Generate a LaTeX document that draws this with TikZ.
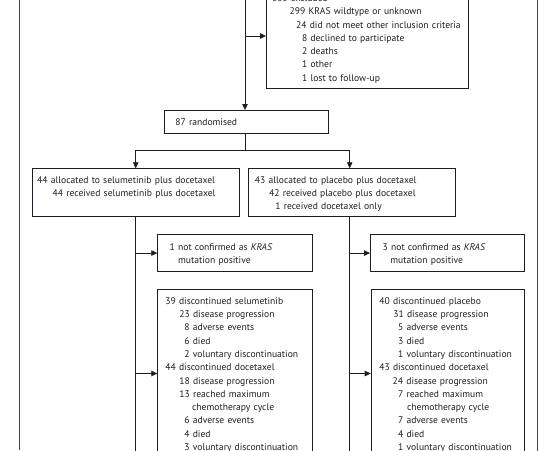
\documentclass[tikz,border=0pt]{standalone}
\usepackage{fontspec}
\setmainfont{PT Sans}
\usepackage{xcolor}
\usepackage{tikz}
\usetikzlibrary{arrows.meta,positioning,calc}

\definecolor{framered}{RGB}{168,18,70}
\definecolor{inkdark}{RGB}{30,28,36}
\newcommand{\indt}[1]{\hspace*{#1pt}}
\newcommand{\rowstrut}{\rule[-2.8pt]{0pt}{13.3pt}}

\tikzset{
  flowbox/.style={draw=inkdark, line width=0.8pt, inner xsep=0pt, inner ysep=4pt,
    anchor=north west, align=left, text=inkdark,
    font=\fontsize{9.6}{13.3}\selectfont, execute at begin node=\rowstrut},
  flowline/.style={draw=inkdark, line width=0.8pt},
  flowarrow/.style={flowline, -{Triangle[length=6pt,width=5.5pt]}}
}

\begin{document}
\begin{tikzpicture}[x=1pt, y=-1pt]
\useasboundingbox (0,0) rectangle (548,450);
\clip (0,0) rectangle (548,450);

% page rules
\draw[framered, line width=0.9pt] (19,-2) -- (19,449.5);
\draw[framered, line width=0.9pt] (537.7,-2) -- (537.7,452);

% exclusions
\node[flowbox, text width=202pt] (excl) at (266,-13.5)
  {\indt{5.7}335 excluded\\
   \indt{23.3}299 KRAS wildtype or unknown\\
   \indt{29.7}24 did not meet other inclusion criteria\\
   \indt{35.7}8 declined to participate\\
   \indt{35.7}2 deaths\\
   \indt{35.7}1 other\\
   \indt{35.7}1 lost to follow-up\rowstrut};

% randomisation
\node[flowbox, text width=164.5pt, minimum height=23.3pt] (rand) at (163.5,110)
  {\indt{11.5}87 randomised\rowstrut};

% allocation
\node[flowbox, text width=207pt] (armL) at (32.3,168.3)
  {\indt{4.4}44 allocated to selumetinib plus docetaxel\\
   \indt{20}44 received selumetinib plus docetaxel\\
   \rowstrut};
\node[flowbox, text width=207pt] (armR) at (247.8,168.3)
  {\indt{6.7}43 allocated to placebo plus docetaxel\\
   \indt{21}42 received placebo plus docetaxel\\
   \indt{27.2}1 received docetaxel only\rowstrut};

% not confirmed
\node[flowbox, text width=154.4pt, minimum height=36.7pt] (sideL) at (157.3,234.3)
  {\indt{12}1 not confirmed as \textit{KRAS}\\
   \indt{20.4}mutation positive\rowstrut};
\node[flowbox, text width=154.3pt, minimum height=36.7pt] (sideR) at (370,234.3)
  {\indt{12.3}3 not confirmed as \textit{KRAS}\\
   \indt{20}mutation positive\rowstrut};

% discontinuations
\node[flowbox, text width=154.4pt] (discL) at (157.3,289.3)
  {\indt{7.7}39 discontinued selumetinib\\
   \indt{21.7}23 disease progression\\
   \indt{26.7}8 adverse events\\
   \indt{26.7}6 died\\
   \indt{26.7}2 voluntary discontinuation\\
   \indt{7.7}44 discontinued docetaxel\\
   \indt{21.7}18 disease progression\\
   \indt{21.7}13 reached maximum\\
   \indt{34.4}chemotherapy cycle\\
   \indt{26.7}6 adverse events\\
   \indt{26.7}4 died\\
   \indt{26.7}3 voluntary discontinuation\rowstrut};
\node[flowbox, text width=153.6pt] (discR) at (370.7,289.3)
  {\indt{8.3}40 discontinued placebo\\
   \indt{22.3}31 disease progression\\
   \indt{27}5 adverse events\\
   \indt{27}3 died\\
   \indt{27}1 voluntary discontinuation\\
   \indt{8.3}43 discontinued docetaxel\\
   \indt{21.6}24 disease progression\\
   \indt{27}7 reached maximum\\
   \indt{36}chemotherapy cycle\\
   \indt{27}7 adverse events\\
   \indt{27}4 died\\
   \indt{27}1 voluntary discontinuation\rowstrut};

% connectors
\coordinate (topin) at (245,-5);
\coordinate (split) at (245,150);
\coordinate (splitL) at (135.7,150);
\coordinate (splitR) at (349.7,150);
\coordinate (endL) at (135.7,456);
\coordinate (endR) at (349.7,456);

\draw[flowarrow] (topin) -- (topin |- rand.north);
\draw[flowarrow] (topin |- 0,36) -- (excl.west |- 0,36);
\draw[flowline] (rand.south -| split) -- (split);
\draw[flowline] (splitL) -- (splitR);
\draw[flowarrow] (splitL) -- (splitL |- armL.north);
\draw[flowarrow] (splitR) -- (splitR |- armR.north);

\draw[flowline] (splitL |- armL.south) -- (endL);
\draw[flowline] (splitR |- armR.south) -- (endR);
\draw[flowarrow] (endL |- sideL.west) -- (sideL.west);
\draw[flowarrow] (endL |- discL.west) -- (discL.west);
\draw[flowarrow] (endR |- sideR.west) -- (sideR.west);
\draw[flowarrow] (endR |- discR.west) -- (discR.west);
\end{tikzpicture}
\end{document}
